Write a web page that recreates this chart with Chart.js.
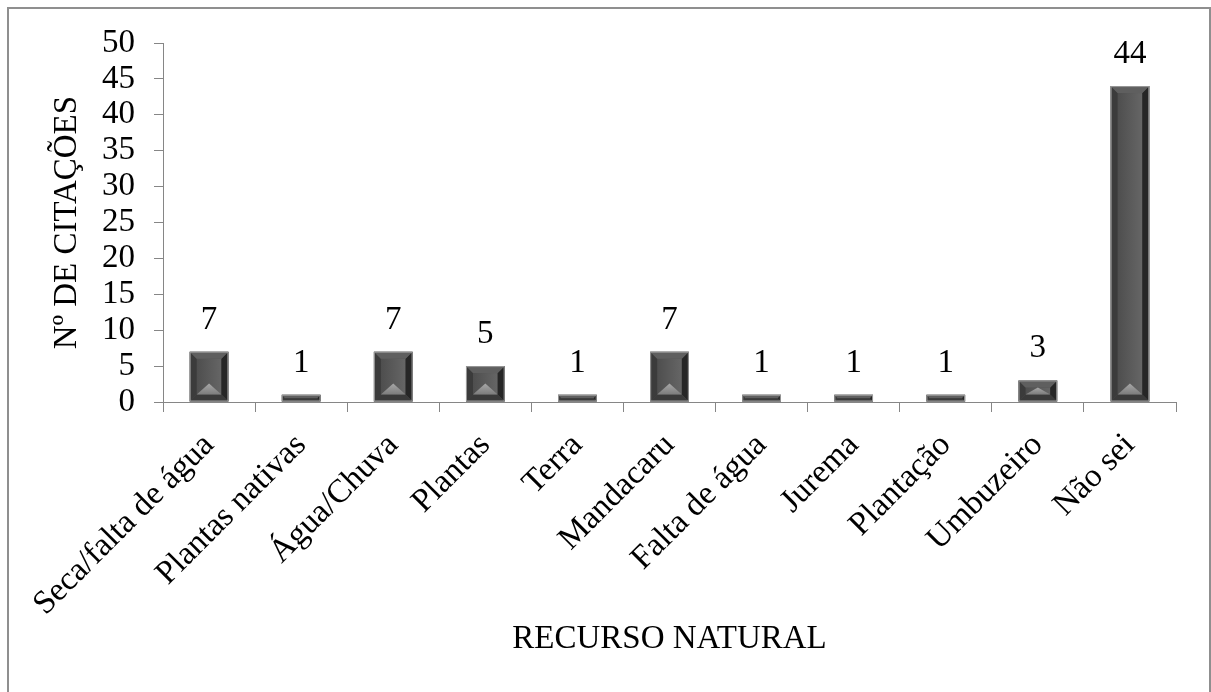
<!DOCTYPE html>
<html>
<head>
<meta charset="utf-8">
<script src="https://cdn.jsdelivr.net/npm/chart.js@4.4.0/dist/chart.umd.min.js"></script>
<style>
  body { margin: 0; background: #fff; }
  #wrap { position: relative; width: 1211px; height: 692px; overflow: hidden; }
  #frame { position: absolute; left: 7px; top: 7px; width: 1200px; height: 700px; border: 2px solid #8f8f8f; pointer-events: none; }
</style>
</head>
<body>
<div id="wrap">
  <canvas id="chart" width="1211" height="692"></canvas>
  <div id="frame"></div>
</div>
<script>
const categories = [
  "Seca/falta de água", "Plantas nativas", "Água/Chuva", "Plantas", "Terra",
  "Mandacaru", "Falta de água", "Jurema", "Plantação", "Umbuzeiro", "Não sei"
];
const citations = [7, 1, 7, 5, 1, 7, 1, 1, 1, 3, 44];
const yMin = 0, yMax = 50, yStep = 5;

const serif = "'Liberation Serif', 'Times New Roman', serif";
const axisGray = "#868686";
const fontSize = 33;

// bevelled look of the bars, drawn over the plain bar
const bevelBars = {
  id: "bevelBars",
  afterDatasetsDraw(chart) {
    const ctx = chart.ctx;
    chart.getDatasetMeta(0).data.forEach(bar => {
      const { x, y, base, width } = bar.getProps(["x", "y", "base", "width"], true);
      const l = x - width / 2, r = x + width / 2, t = y, b = base;
      const h = b - t;
      const e = Math.min(7, width / 4, h / 2);
      ctx.save();
      const g = ctx.createLinearGradient(l, 0, r, 0);
      g.addColorStop(0, "#474747");
      g.addColorStop(0.5, "#5a5a5a");
      g.addColorStop(1, "#6c6c6c");
      ctx.fillStyle = g;
      ctx.fillRect(l + e, t + e, width - 2 * e, h - 2 * e);
      const poly = (pts, fill) => {
        ctx.beginPath();
        ctx.moveTo(pts[0][0], pts[0][1]);
        pts.slice(1).forEach(p => ctx.lineTo(p[0], p[1]));
        ctx.closePath();
        ctx.fillStyle = fill;
        ctx.fill();
      };
      poly([[l, t], [l + e, t + e], [l + e, b - e], [l, b]], "#3b3b3b");
      poly([[r, t], [r - e, t + e], [r - e, b - e], [r, b]], "#262626");
      poly([[l, t], [r, t], [r - e, t + e], [l + e, t + e]], "#5f5f5f");
      poly([[l, b], [r, b], [r - e, b - e], [l + e, b - e]], "#3a3a3a");
      if (h > 14) {
        const th = Math.min((width - 2 * e) * 0.45, h - 2 * e);
        const tg = ctx.createLinearGradient(0, b - e - th, 0, b - e);
        tg.addColorStop(0, "#a8a8a8");
        tg.addColorStop(1, "#7c7c7c");
        poly([[l + e, b - e], [r - e, b - e], [x, b - e - th]], tg);
      }
      ctx.strokeStyle = "#9a9a9a";
      ctx.lineWidth = 1;
      ctx.strokeRect(l + 0.5, t + 0.5, width - 1, h - 1);
      ctx.restore();
    });
  }
};

// value labels above the bars
const valueLabels = {
  id: "valueLabels",
  afterDatasetsDraw(chart) {
    const ctx = chart.ctx;
    const ds = chart.data.datasets[0];
    ctx.save();
    ctx.font = fontSize + "px " + serif;
    ctx.fillStyle = "#000";
    ctx.textAlign = "center";
    ctx.textBaseline = "alphabetic";
    chart.getDatasetMeta(0).data.forEach((bar, i) => {
      ctx.fillText(String(ds.data[i]), bar.x, bar.y - 23);
    });
    ctx.restore();
  }
};

new Chart(document.getElementById("chart"), {
  type: "bar",
  data: {
    labels: categories,
    datasets: [{
      label: "Nº de citações",
      data: citations,
      backgroundColor: "#4e4e4e",
      borderWidth: 0,
      barPercentage: 1,
      categoryPercentage: 0.42
    }]
  },
  options: {
    responsive: false,
    animation: false,
    layout: { padding: { top: 43, right: 35, left: 0, bottom: 0 } },
    plugins: {
      legend: { display: false },
      tooltip: { enabled: false }
    },
    scales: {
      x: {
        grid: { display: true, drawOnChartArea: false, drawTicks: true, tickLength: 10, color: axisGray, offset: true },
        border: { color: axisGray, width: 1 },
        ticks: {
          color: "#000",
          font: { family: serif, size: fontSize },
          minRotation: 45,
          maxRotation: 45,
          autoSkip: false,
          padding: 14
        },
        title: {
          display: true,
          text: "RECURSO NATURAL",
          color: "#000",
          font: { family: serif, size: fontSize },
          padding: { top: 0, bottom: 33 }
        },
        afterFit(scale) { scale.height = 290; }
      },
      y: {
        min: yMin,
        max: yMax,
        grid: { display: true, drawOnChartArea: false, drawTicks: true, tickLength: 9, color: axisGray },
        border: { color: axisGray, width: 1 },
        ticks: {
          stepSize: yStep,
          autoSkip: false,
          color: "#000",
          font: { family: serif, size: fontSize },
          padding: 19
        },
        title: {
          display: true,
          text: "Nº DE CITAÇÕES",
          color: "#000",
          font: { family: serif, size: fontSize },
          padding: { top: 48, bottom: 0 }
        },
        afterFit(scale) { scale.width = 163; }
      }
    }
  },
  plugins: [bevelBars, valueLabels]
});
</script>
</body>
</html>
